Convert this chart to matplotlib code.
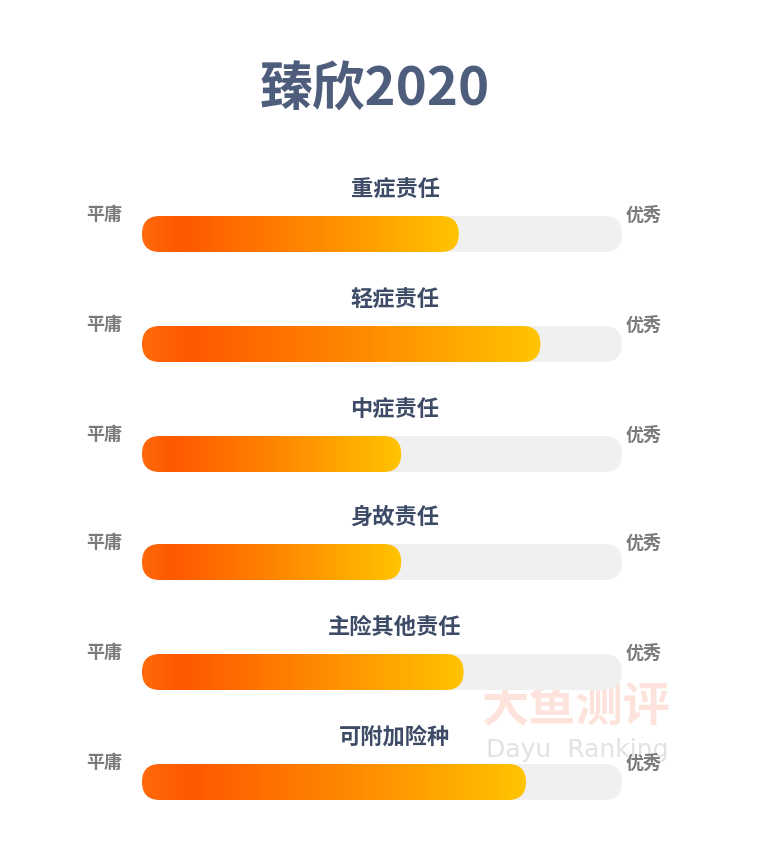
import matplotlib.pyplot as plt
import numpy as np
from matplotlib.patches import FancyBboxPatch
from matplotlib.colors import LinearSegmentedColormap

plt.rcParams['font.family'] = ['Noto Sans CJK SC', 'DejaVu Sans']

title = '臻欣2020'
categories = ['重症责任', '轻症责任', '中症责任', '身故责任', '主险其他责任', '可附加险种']
scores = [0.66, 0.83, 0.54, 0.54, 0.67, 0.80]   # share of the track between 平庸 and 优秀
low_label = '平庸'
high_label = '优秀'

# layout in pixels (figure 770 x 866)
W, H = 770, 866
track_x0, track_x1 = 142, 622
track_h = 36
row_tops = [216, 326, 436, 544, 654, 764]

grad = LinearSegmentedColormap.from_list(
    'bar', [(0, '#ff6a0a'), (0.12, '#fe5800'), (0.55, '#ff8a00'), (1, '#ffc400')])

fig = plt.figure(figsize=(W / 100, H / 100), dpi=100)
ax = fig.add_axes([0, 0, 1, 1])
ax.set_xlim(0, W)
ax.set_ylim(H, 0)
ax.axis('off')

ax.text(W / 2 - 10, 90, title, ha='center', va='center', fontsize=38,
        fontweight='bold', color='#4e5d7c')

# watermark
ax.text(576, 708, '大鱼测评', ha='center', va='center', fontsize=34,
        fontweight='bold', color='#fde3dc', zorder=0)
ax.text(577, 750, 'Dayu  Ranking', ha='center', va='center', fontsize=18,
        color='#e2e2e2', zorder=0, family='DejaVu Sans')

r = track_h / 2
for name, val, top in zip(categories, scores, row_tops):
    track = FancyBboxPatch((track_x0, top), track_x1 - track_x0, track_h,
                           boxstyle=f'round,pad=0,rounding_size={r}',
                           fc='#f0f0f0', ec='none', zorder=1)
    ax.add_patch(track)

    bar_w = (track_x1 - track_x0) * val
    clip = FancyBboxPatch((track_x0, top), bar_w, track_h,
                          boxstyle=f'round,pad=0,rounding_size={r}',
                          fc='none', ec='none', zorder=2)
    ax.add_patch(clip)
    img = ax.imshow(np.linspace(0, 1, 256)[None, :], cmap=grad, aspect='auto',
                    extent=(track_x0, track_x0 + bar_w, top + track_h, top),
                    zorder=2, interpolation='bilinear')
    img.set_clip_path(clip)

    ax.text(395, top - 27, name, ha='center', va='center', fontsize=16,
            fontweight='bold', color='#3d4b66', zorder=3)
    ax.text(104, top - 1, low_label, ha='center', va='center', fontsize=13,
            fontweight='bold', color='#7a7a7a', zorder=3)
    ax.text(644, top - 1, high_label, ha='center', va='center', fontsize=13,
            fontweight='bold', color='#7a7a7a', zorder=3)

ax.set_xlim(0, W)
ax.set_ylim(H, 0)
fig.savefig('out.png', dpi=100, facecolor='white')
